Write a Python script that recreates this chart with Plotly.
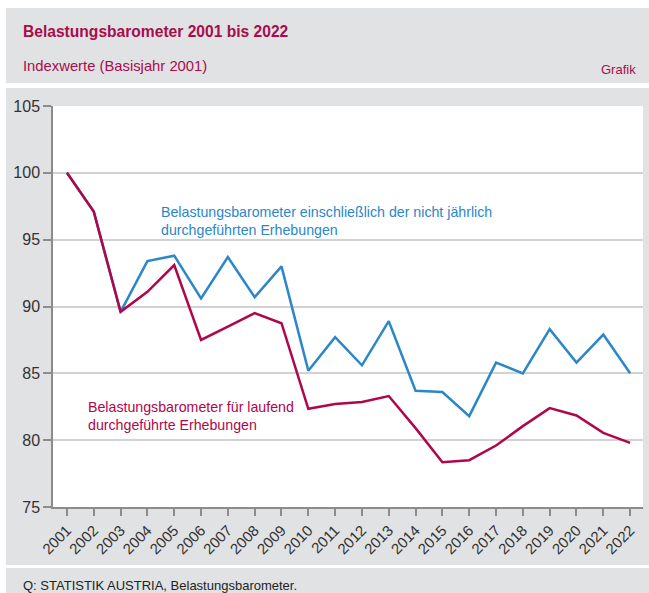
import plotly.graph_objects as go

years = list(range(2001, 2023))
inkl_nicht_jaehrlich = [100.0, 97.1, 89.6, 93.4, 93.8, 90.6, 93.7, 90.7, 93.0, 85.2, 87.7,
                        85.6, 88.9, 83.7, 83.6, 81.8, 85.8, 85.0, 88.3, 85.8, 87.9, 85.0]
laufend = [100.0, 97.1, 89.6, 91.1, 93.1, 87.5, 88.5, 89.5, 88.75, 82.35, 82.7,
           82.85, 83.3, 80.9, 78.35, 78.5, 79.6, 81.05, 82.4, 81.85, 80.55, 79.8]
y_ticks = [75, 80, 85, 90, 95, 100, 105]

W, H = 649, 593
L, R, T, B = 53, 643, 106, 507
PW, PH = R - L, B - T


def px(x):
    return (x - L) / PW


def py(y):
    return (B - y) / PH


BLUE = "#2B87C8"
RED = "#B0064C"
TITLE = "#A80D4B"
GRAY = "#E1E2E4"
SANS = "Liberation Sans, Arial, sans-serif"

fig = go.Figure()
fig.add_trace(go.Scatter(x=years, y=inkl_nicht_jaehrlich, mode="lines",
                         line=dict(color=BLUE, width=2.5), showlegend=False))
fig.add_trace(go.Scatter(x=years, y=laufend, mode="lines",
                         line=dict(color=RED, width=2.5), showlegend=False))

shapes = []
for (x0, y0, x1, y1, c) in [(6, 8, 649, 83, GRAY), (6, 88, 649, 565, GRAY),
                            (6, 568, 649, 593, GRAY), (L, T, R, B, "white")]:
    shapes.append(dict(type="rect", xref="paper", yref="paper", layer="below",
                       x0=px(x0), x1=px(x1), y0=py(y1), y1=py(y0),
                       fillcolor=c, line=dict(width=0)))

annotations = [
    dict(text="<b>Belastungsbarometer 2001 bis 2022</b>", x=px(21), y=py(31),
         xanchor="left", yanchor="middle", font=dict(family=SANS, size=15.6, color=TITLE)),
    dict(text="Indexwerte (Basisjahr 2001)", x=px(21), y=py(66),
         xanchor="left", yanchor="middle", font=dict(family=SANS, size=14.8, color=TITLE)),
    dict(text="Grafik", x=px(638), y=py(69),
         xanchor="right", yanchor="middle", font=dict(family=SANS, size=13, color=TITLE)),
    dict(text="Belastungsbarometer einschließlich der nicht jährlich<br>durchgeführten Erhebungen",
         x=px(159), y=py(221), xanchor="left", yanchor="middle", align="left",
         font=dict(family=SANS, size=14.2, color=BLUE)),
    dict(text="Belastungsbarometer für laufend<br>durchgeführte Erhebungen",
         x=px(86), y=py(416), xanchor="left", yanchor="middle", align="left",
         font=dict(family=SANS, size=14.2, color=RED)),
    dict(text="Q: STATISTIK AUSTRIA, Belastungsbarometer.", x=px(21), y=py(585),
         xanchor="left", yanchor="middle", font=dict(family=SANS, size=13, color="#222222")),
]
for a in annotations:
    a.update(xref="paper", yref="paper", showarrow=False)

fig.update_layout(
    width=W, height=H,
    margin=dict(l=L, r=W - R, t=T, b=H - B, pad=0),
    paper_bgcolor="white", plot_bgcolor="rgba(0,0,0,0)",
    shapes=shapes, annotations=annotations,
    xaxis=dict(range=[2000.48, 2022.48], tickvals=years, ticktext=[str(y) for y in years],
               tickangle=-45, showgrid=False, zeroline=False,
               showline=True, linecolor="#8C8C8C", linewidth=1.5,
               ticks="outside", ticklen=7, tickcolor="#8C8C8C", tickwidth=1.5,
               tickfont=dict(family=SANS, size=15, color="#333333")),
    yaxis=dict(range=[75, 105], tickvals=y_ticks, showgrid=True, gridcolor="#D2D2D2",
               gridwidth=1.5, zeroline=False,
               showline=True, linecolor="#8C8C8C", linewidth=1.5,
               ticks="outside", ticklen=8, tickcolor="#8C8C8C", tickwidth=1.5,
               tickfont=dict(family=SANS, size=16, color="#333333")),
)

fig.write_html("out.html")
